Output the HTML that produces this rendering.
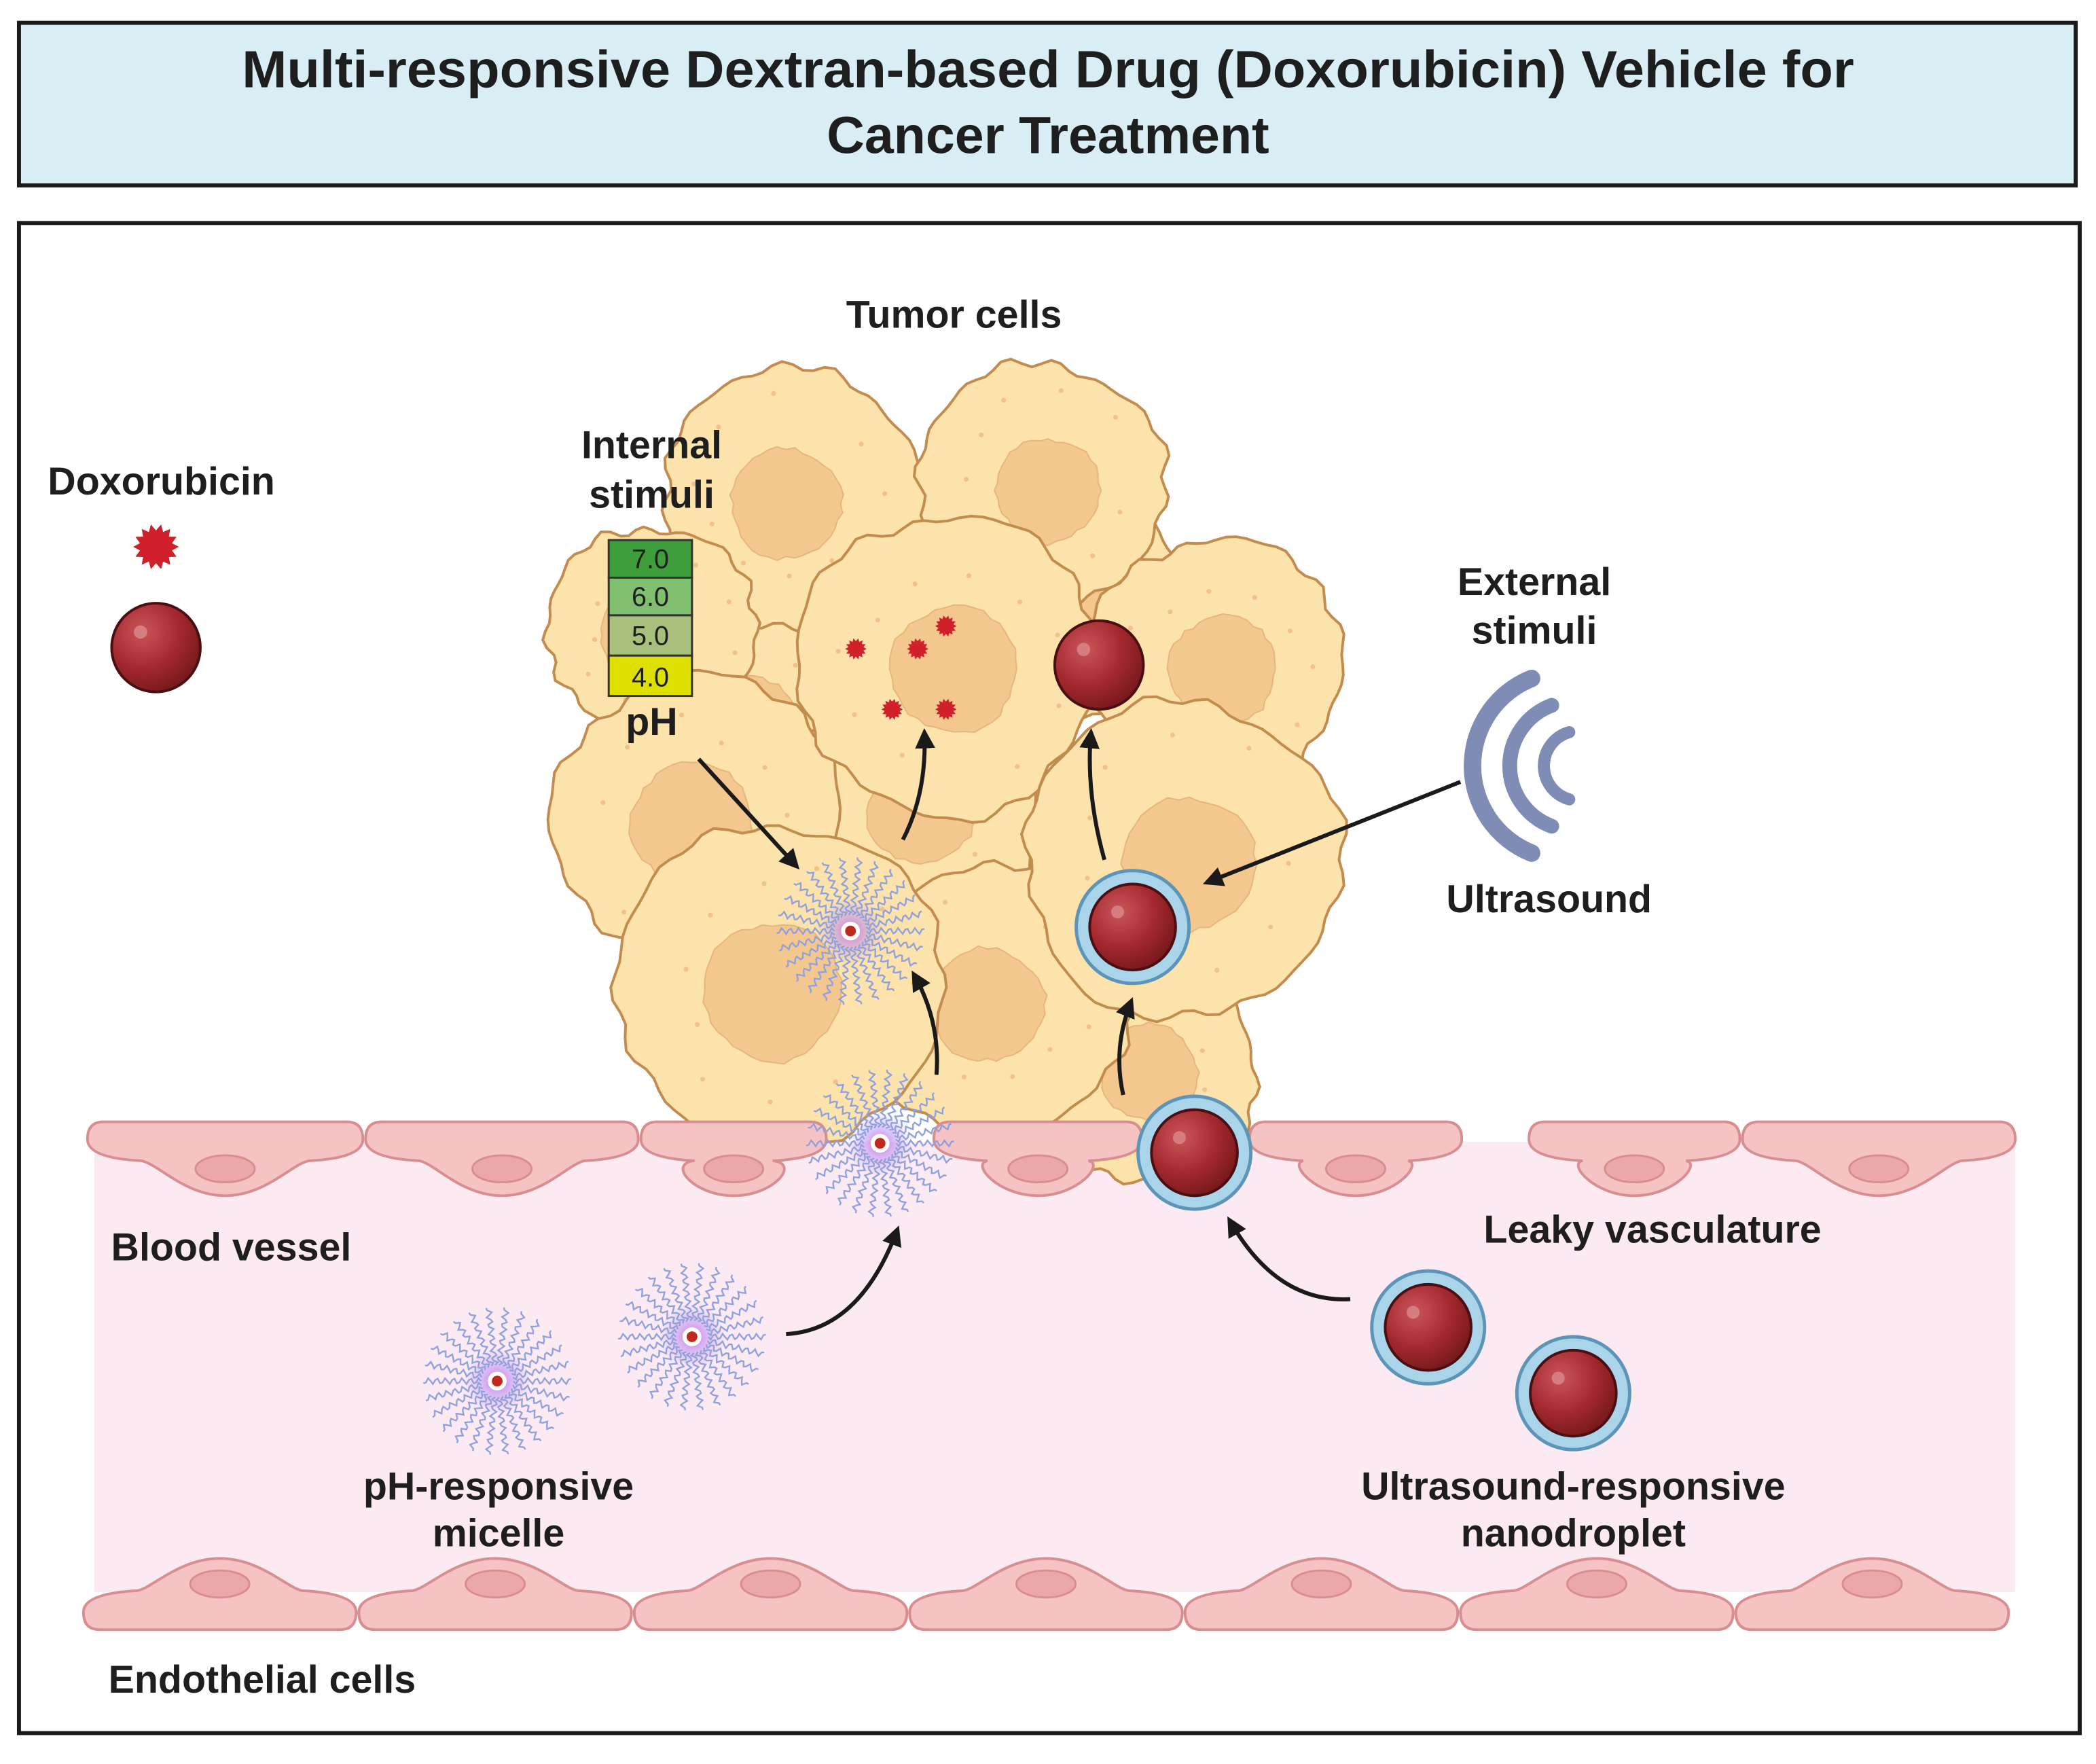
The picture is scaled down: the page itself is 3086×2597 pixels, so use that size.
<!DOCTYPE html>
<html><head><meta charset="utf-8"><style>
html,body{margin:0;padding:0;background:#fff;}
svg{display:block;}
text{font-family:"Liberation Sans",Arial,sans-serif;font-weight:bold;fill:#1e1e1e;}
</style></head><body>
<svg id="s" width="3086" height="2597" viewBox="0 0 1560 1313" xmlns="http://www.w3.org/2000/svg">
<defs>
<radialGradient id="sph" cx="35%" cy="32%" r="70%"><stop offset="0" stop-color="#c9565a"/><stop offset="0.6" stop-color="#a3282d"/><stop offset="1" stop-color="#7a1a1d"/></radialGradient>
<radialGradient id="glow"><stop offset="0" stop-color="#b070f0" stop-opacity="0.9"/><stop offset="1" stop-color="#c9a0f5" stop-opacity="0"/></radialGradient>
<marker id="ah" viewBox="0 0 10 10" refX="8" refY="5" markerWidth="5" markerHeight="5" orient="auto"><path d="M0,0 L10,5 L0,10 Z" fill="#1a1a1a"/></marker>
</defs>
<rect x="14" y="17" width="1531" height="121" fill="#d8eef4" stroke="#1a1a1a" stroke-width="3"/>
<text x="780" y="65" font-size="39" text-anchor="middle" textLength="1200" lengthAdjust="spacingAndGlyphs">Multi-responsive Dextran-based Drug (Doxorubicin) Vehicle for</text>
<text x="780" y="114" font-size="39" text-anchor="middle">Cancer Treatment</text>
<rect x="14" y="166" width="1534" height="1124" fill="#fff" stroke="#1a1a1a" stroke-width="3"/>
<rect x="70" y="850" width="1430" height="335" fill="#fceaf2"/>
<g id="cells"></g>
<g id="endo"></g>
<g id="parts"></g>
<text x="710" y="244" font-size="29" text-anchor="middle">Tumor cells</text>
<text x="120" y="368" font-size="29" text-anchor="middle">Doxorubicin</text>
<text x="485" y="341" font-size="29" text-anchor="middle">Internal</text>
<text x="485" y="378" font-size="29" text-anchor="middle">stimuli</text>
<g stroke="#333" stroke-width="1.5">
<rect x="453" y="402" width="62" height="28" fill="#3f9e3c"/>
<rect x="453" y="430" width="62" height="28" fill="#7fbf6f"/>
<rect x="453" y="458" width="62" height="30" fill="#a9c07c"/>
<rect x="453" y="488" width="62" height="30" fill="#dde000"/>
</g>
<g font-size="20" text-anchor="middle">
<text x="484" y="423" style="font-weight:normal">7.0</text><text x="484" y="451" style="font-weight:normal">6.0</text><text x="484" y="480" style="font-weight:normal">5.0</text><text x="484" y="511" style="font-weight:normal">4.0</text></g>
<text x="485" y="547" font-size="29" text-anchor="middle">pH</text>
<text x="1142" y="443" font-size="29" text-anchor="middle">External</text>
<text x="1142" y="479" font-size="29" text-anchor="middle">stimuli</text>
<text x="1153" y="679" font-size="29" text-anchor="middle">Ultrasound</text>
<text x="172" y="938" font-size="29" text-anchor="middle">Blood vessel</text>
<text x="1230" y="925" font-size="29" text-anchor="middle">Leaky vasculature</text>
<text x="371" y="1116" font-size="29" text-anchor="middle">pH-responsive</text>
<text x="371" y="1151" font-size="29" text-anchor="middle">micelle</text>
<text x="1171" y="1116" font-size="29" text-anchor="middle">Ultrasound-responsive</text>
<text x="1171" y="1151" font-size="29" text-anchor="middle">nanodroplet</text>
<text x="195" y="1260" font-size="29" text-anchor="middle">Endothelial cells</text>
<g fill="none" stroke="#7f8cb5" stroke-linecap="round">
<path d="M1140,505 A70,70 0 0 0 1140,635" stroke-width="13"/>
<path d="M1155,525 A48,48 0 0 0 1155,615" stroke-width="11"/>
<path d="M1168,545 A26,26 0 0 0 1168,595" stroke-width="9"/>
</g>
<g fill="none" stroke="#1a1a1a" stroke-width="3" marker-end="url(#ah)">
<path d="M520,565 L593,645"/>
<path d="M1087,582 L898,657"/>
<path d="M672,625 Q690,590 688,545"/>
<path d="M822,640 Q808,590 812,545"/>
<path d="M697,800 Q700,760 680,725"/>
<path d="M836,815 Q828,780 842,745"/>
<path d="M585,993 Q640,990 668,915"/>
<path d="M1005,967 Q950,970 915,908"/>
</g>
</svg>
<script>
var NS="http://www.w3.org/2000/svg";
function el(p,t,a){var e=document.createElementNS(NS,t);for(var k in a)e.setAttribute(k,a[k]);p.appendChild(e);return e;}
function blob(cx,cy,r,seed,amp,n){var d="";n=n||80;for(var i=0;i<=n;i++){var a=i/n*Math.PI*2;var rr=r*(1+0.025*Math.sin(a*3+seed)+0.02*Math.sin(a*5+seed*2))+amp*Math.sin(a*16+seed*3)*(0.6+0.4*Math.sin(a*4+seed));var x=cx+rr*Math.cos(a),y=cy+rr*Math.sin(a);d+=(i?"L":"M")+x.toFixed(1)+","+y.toFixed(1);}return d+"Z";}
var cells=document.getElementById("cells");
var C=[[560,540,95,11],[680,600,95,12],[800,450,85,13],[590,372,98,1],[775,362,92,2],[485,470,78,3],[905,495,95,4],[520,610,108,5],[850,795,85,6],[740,745,100,7],[880,640,118,8],[580,735,122,9],[705,495,112,10]];
C.forEach(function(c){
 el(cells,"path",{d:blob(c[0],c[1],c[2],c[3],4),fill:"#fbe3ab",stroke:"#c38c4e","stroke-width":2});
 el(cells,"path",{d:blob(c[0]+(c[3]%2?-5:5),c[1]+3,c[2]*0.42,c[3]+7,1.5,40),fill:"#f4c78f",stroke:"#e6b57c","stroke-width":1});
 for(var j=0;j<10;j++){var a=j*2.3+c[3],r=c[2]*(0.55+0.3*((j*37)%10)/10);el(cells,"circle",{cx:c[0]+r*Math.cos(a),cy:c[1]+r*Math.sin(a),r:1.8,fill:"#f2c08a"});}
});
var endo=document.getElementById("endo");
function topCell(x0,x1){var m=(x0+x1)/2;var d="M"+(x0+12)+",835 H"+(x1-12)+" Q"+x1+",835 "+x1+",848 Q"+x1+",862 "+(x1-40)+",864 C"+(m+50)+",866 "+(m+30)+",890 "+m+",890 C"+(m-30)+",890 "+(m-50)+",866 "+(x0+40)+",864 Q"+x0+",862 "+x0+",848 Q"+x0+",835 "+(x0+12)+",835Z";
 el(endo,"path",{d:d,fill:"#f5c3c4",stroke:"#d88e91","stroke-width":2});el(endo,"ellipse",{cx:m,cy:870,rx:22,ry:10,fill:"#eca7ab",stroke:"#d88e91","stroke-width":1.5});}
function botCell(x0,x1){var m=(x0+x1)/2;var d="M"+(x0+12)+",1213 H"+(x1-12)+" Q"+x1+",1213 "+x1+",1200 Q"+x1+",1186 "+(x1-40)+",1184 C"+(m+50)+",1182 "+(m+30)+",1160 "+m+",1160 C"+(m-30)+",1160 "+(m-50)+",1182 "+(x0+40)+",1184 Q"+x0+",1186 "+x0+",1200 Q"+x0+",1213 "+(x0+12)+",1213Z";
 el(endo,"path",{d:d,fill:"#f5c3c4",stroke:"#d88e91","stroke-width":2});el(endo,"ellipse",{cx:m,cy:1179,rx:22,ry:10,fill:"#eca7ab",stroke:"#d88e91","stroke-width":1.5});}
[[65,270],[272,475],[477,615],[695,850],[930,1088],[1138,1295],[1297,1500]].forEach(function(s){topCell(s[0],s[1]);});
for(var i=0;i<7;i++){botCell(62+i*205,62+i*205+203);}
var parts=document.getElementById("parts");
function micelle(cx,cy,R){el(parts,"circle",{cx:cx,cy:cy,r:R*0.45,fill:"url(#glow)"});
 for(var k=0;k<26;k++){var a=k/26*Math.PI*2,d="";for(var t=0;t<=24;t++){var r=R*0.22+t/24*R*0.78;var w=2.2*Math.sin(t*1.8);var x=cx+r*Math.cos(a)-w*Math.sin(a),y=cy+r*Math.sin(a)+w*Math.cos(a);d+=(t?"L":"M")+x.toFixed(1)+","+y.toFixed(1);}
 el(parts,"path",{d:d,fill:"none",stroke:"#8fa2dd","stroke-width":1.2});}
 el(parts,"circle",{cx:cx,cy:cy,r:7,fill:"#fff"});el(parts,"circle",{cx:cx,cy:cy,r:4,fill:"#c0281e"});}
function sphere(cx,cy,r){el(parts,"circle",{cx:cx,cy:cy,r:r,fill:"url(#sph)",stroke:"#4a0f12","stroke-width":2});el(parts,"circle",{cx:cx-r*0.35,cy:cy-r*0.35,r:r*0.15,fill:"#d98a8c",opacity:0.8});}
function drop(cx,cy){el(parts,"circle",{cx:cx,cy:cy,r:42,fill:"#a9d4ea",stroke:"#5d95b9","stroke-width":2.5});sphere(cx,cy,32);}
micelle(370,1028,55);micelle(515,995,55);micelle(655,851,55);micelle(633,693,55);
drop(1063,988);drop(1171,1037);drop(889,858);drop(843,690);
sphere(818,495,33);sphere(116,482,33);
function star(cx,cy,r){var d="";for(var i=0;i<=28;i++){var a=i/28*Math.PI*2,rr=i%2?r*0.72:r;d+=(i?"L":"M")+(cx+rr*Math.cos(a)).toFixed(1)+","+(cy+rr*Math.sin(a)).toFixed(1);}el(parts,"path",{d:d+"Z",fill:"#d0202a"});}
star(116,407,17);
[[637,483],[683,483],[704,466],[664,528],[704,528]].forEach(function(p){star(p[0],p[1],8);});
</script>
</body></html>
